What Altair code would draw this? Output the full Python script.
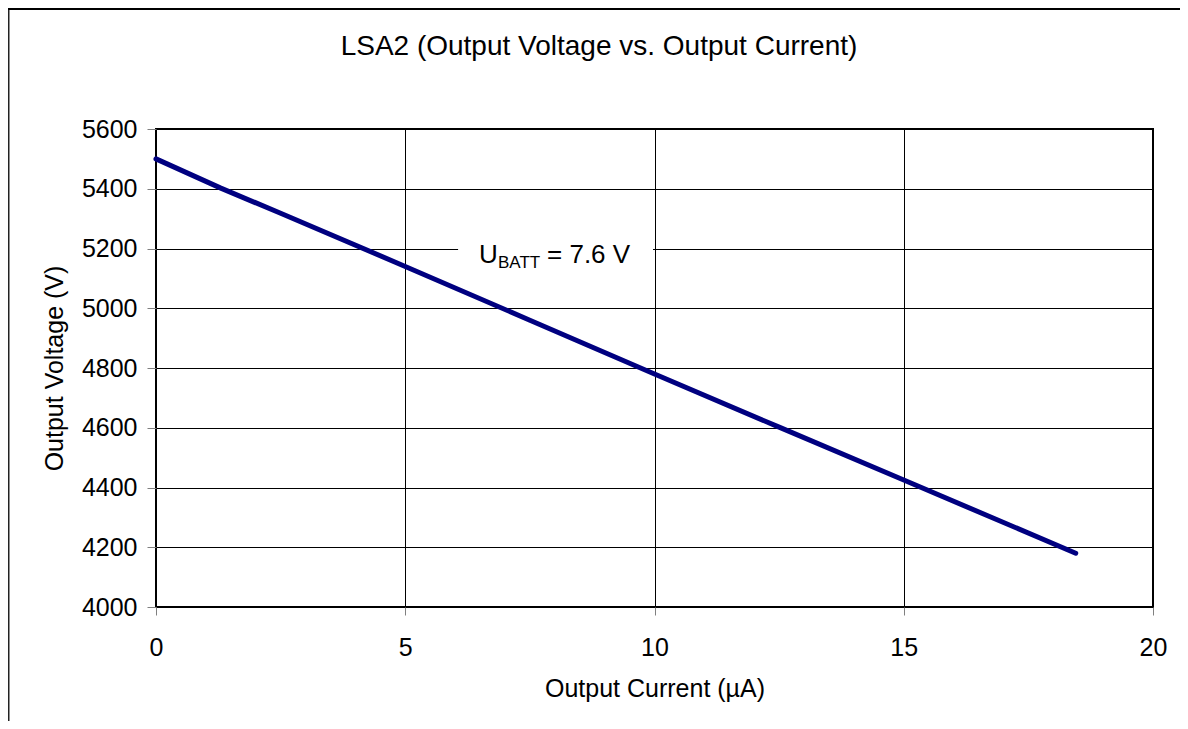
import altair as alt
import pandas as pd

# Data
current_uA = [0, 1.3, 2.5, 5, 7.5, 10, 12.5, 15, 18.45]
voltage_V = [5500, 5402, 5318, 5140, 4960, 4780, 4602, 4425, 4180]

x_ticks = [0, 5, 10, 15, 20]
y_ticks = [4000, 4200, 4400, 4600, 4800, 5000, 5200, 5400, 5600]

title_text = "LSA2 (Output Voltage vs. Output Current)"
x_title = "Output Current (µA)"
y_title = "Output Voltage (V)"

ann_x = [6.48]
ann_y = [5152]
box_x = [6.06]
box_x2 = [9.97]
box_y = [5108]
box_y2 = [5255]

FONT = "Liberation Sans"

df = pd.DataFrame({"I": current_uA, "U": voltage_V})
ann = pd.DataFrame({"x": ann_x, "y": ann_y})
box = pd.DataFrame({"x": box_x, "x2": box_x2, "y": box_y, "y2": box_y2})
title_df = pd.DataFrame({"t": [title_text]})

xscale = alt.Scale(domain=[0, 20], nice=False, zero=False)
yscale = alt.Scale(domain=[4000, 5600], nice=False, zero=False)

xaxis = alt.Axis(values=x_ticks, title=x_title, grid=True, domain=False,
                 tickSize=8, tickColor="#808080", labelPadding=20,
                 titlePadding=16, labelFontSize=25, titleFontSize=25,
                 labelFlush=False, format="d")
yaxis = alt.Axis(values=y_ticks, title=y_title, grid=True, domain=False,
                 tickSize=9, tickColor="#808080", labelPadding=10,
                 titlePadding=14, labelFontSize=25, titleFontSize=25,
                 labelFlush=False, format="d")

line = alt.Chart(df).mark_line(color="#000080", strokeWidth=5, strokeCap="round").encode(
    x=alt.X("I:Q", scale=xscale, axis=xaxis),
    y=alt.Y("U:Q", scale=yscale, axis=yaxis),
)

rect = alt.Chart(box).mark_rect(color="white").encode(
    x="x:Q", x2="x2:Q", y="y:Q", y2="y2:Q"
)

t1 = alt.Chart(ann).mark_text(text="U", fontSize=26, font=FONT, align="left",
                              baseline="alphabetic", color="black").encode(x="x:Q", y="y:Q")
t2 = alt.Chart(ann).mark_text(text="BATT", fontSize=17, font=FONT, align="left",
                              baseline="alphabetic", dx=19, dy=5, color="black").encode(x="x:Q", y="y:Q")
t3 = alt.Chart(ann).mark_text(text="= 7.6 V", fontSize=26, font=FONT, align="left",
                              baseline="alphabetic", dx=68, color="black").encode(x="x:Q", y="y:Q")

title_mark = alt.Chart(title_df).mark_text(fontSize=28, font=FONT, align="center",
                                           baseline="alphabetic", color="black").encode(
    text="t:N", x=alt.value(443), y=alt.value(-74)
)

frame_df = pd.DataFrame({"k": [0]})
frame_left = alt.Chart(frame_df).mark_rule(color="#222", strokeWidth=2).encode(
    x=alt.value(-147.5), y=alt.value(-121), y2=alt.value(600)
)
frame_top = alt.Chart(frame_df).mark_rule(color="#000", strokeWidth=2).encode(
    x=alt.value(-148), x2=alt.value(1030), y=alt.value(-120)
)

chart = alt.layer(rect, line, t1, t2, t3, title_mark, frame_left, frame_top).properties(
    width=997,
    height=478,
    padding={"left": 148, "top": 121, "right": 27, "bottom": 114},
    autosize=alt.AutoSizeParams(type="none"),
).configure_view(
    stroke="black", strokeWidth=2
).configure_axis(
    labelFont=FONT, titleFont=FONT, labelColor="black", titleColor="black",
    titleFontWeight="normal", gridColor="black", gridWidth=1, gridOpacity=1,
)

chart.save("out.html", embed_options={"renderer": "svg", "actions": False})
